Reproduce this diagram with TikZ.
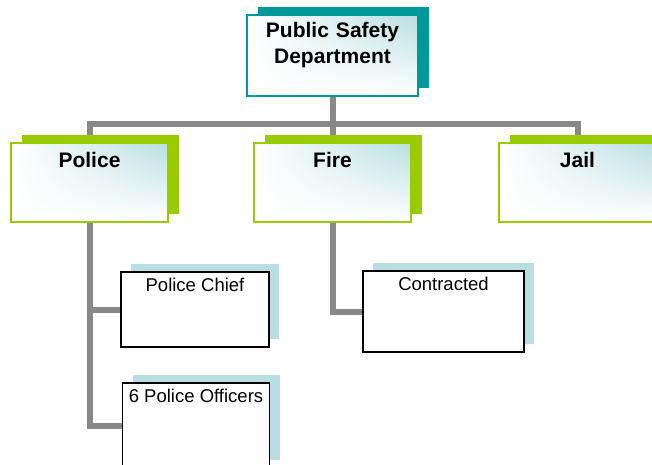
\documentclass[tikz,border=0pt]{standalone}
\usepackage{fontspec}
\setmainfont{Liberation Sans}
\usetikzlibrary{positioning,shadows,shadings,backgrounds}

\definecolor{psdteal}{RGB}{0,153,153}
\definecolor{unitgreen}{RGB}{153,204,0}
\definecolor{paleblue}{RGB}{185,222,225}
\definecolor{linkgray}{RGB}{136,136,136}

\tikzset{
  front/.style={shade, upper right=paleblue, upper left=white, lower left=white,
    lower right=white, line width=2pt, inner sep=0pt, font=\fontsize{21}{26}\selectfont\bfseries},
  headbox/.style={front, draw=psdteal, minimum width=171pt, text width=171pt, align=center,
    text height=22pt, text depth=59pt,
    drop shadow={shadow xshift=11pt, shadow yshift=8pt, fill=psdteal, opacity=1}},
  unitbox/.style={front, draw=unitgreen, minimum width=157pt, text height=24pt, text depth=55pt,
    drop shadow={shadow xshift=11pt, shadow yshift=8pt, fill=unitgreen, opacity=1}},
  staffbox/.style={draw=black, fill=white, line width=1.6pt, inner sep=0pt,
    font=\fontsize{18.5}{22}\selectfont, text height=19.5pt,
    drop shadow={shadow xshift=10pt, shadow yshift=8pt, fill=paleblue, opacity=1}},
  link/.style={draw=linkgray, line width=6pt}
}

\begin{document}
\begin{tikzpicture}[x=1pt, y=-1pt]
  \useasboundingbox (0,0) rectangle (652,464);

  \node[headbox]  (psd)    at (332.5,55.5) {Public Safety\\Department};
  \node[unitbox]  (police) at (89.5,182.5)  {Police};
  \node[unitbox]  (fire)   at (332.5,182.5) {Fire};
  \node[unitbox]  (jail)   at (577.5,182.5) {Jail};

  \node[staffbox, minimum width=148pt, text depth=55.5pt] (chief)      at (195,309.5)   {Police Chief};
  \node[staffbox, minimum width=147pt, text height=19pt, text depth=66pt] (officers) at (196,425.5) {6 Police Officers};
  \node[staffbox, minimum width=161pt, text depth=61.5pt] (contracted) at (443.5,311.5) {Contracted};

  \coordinate (bus) at (332.5,124);

  \begin{scope}[on background layer]
    \draw[link] (psd.south) -- (bus) -| (police.north)
                (bus) -| (jail.north)
                (bus) -- (fire.north);
    \draw[link] (police.south) |- (chief.west)
                (police.south) |- (officers.west);
    \draw[link] (fire.south) |- (contracted.west);
  \end{scope}
\end{tikzpicture}
\end{document}
